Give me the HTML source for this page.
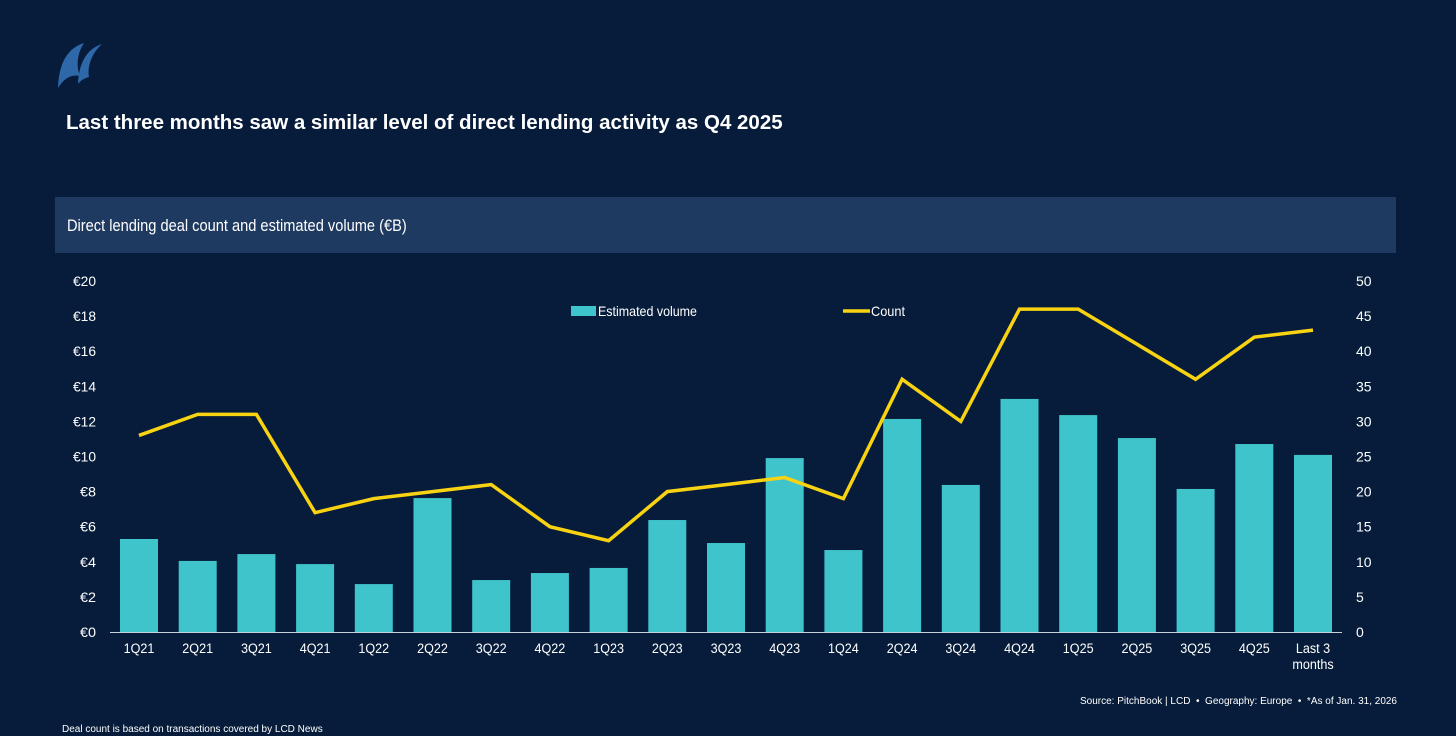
<!DOCTYPE html>
<html><head><meta charset="utf-8"><style>
body{margin:0;width:1456px;height:736px;background:#061c3a;font-family:"Liberation Sans",sans-serif;overflow:hidden;position:relative;color:#fff}
.t{position:absolute;white-space:nowrap}
</style></head><body>
<svg style="position:absolute;left:54px;top:40px" width="50" height="52" viewBox="0 0 50 52">
<path d="M30 3 C14 8 5 22 4 48 C10 38 18 34 26 36 C22 26 23 14 30 3Z" fill="#2f68a8"/>
<path d="M48 4 C33 9 25 22 24 44 C27 40 31 38 35 37 C33 26 38 13 48 4Z" fill="#2f68a8"/>
</svg>
<div class="t" style="left:66px;top:111px;font-size:20.5px;font-weight:bold">Last three months saw a similar level of direct lending activity as Q4 2025</div>
<div style="position:absolute;left:55px;top:197px;width:1341px;height:56px;background:#1f3a60"></div>
<div class="t" style="left:67px;top:216px;font-size:17px;transform:scaleX(0.86);transform-origin:left">Direct lending deal count and estimated volume (€B)</div>
<svg id="c" style="position:absolute;left:0;top:0" width="1456" height="736"></svg>
<div class="t" style="right:59px;top:696px;font-size:10px">Source: PitchBook | LCD &nbsp;•&nbsp; Geography: Europe &nbsp;•&nbsp; *As of Jan. 31, 2026</div>
<div class="t" style="left:62px;top:724px;font-size:10px">Deal count is based on transactions covered by LCD News</div>
<script>
const categories=["1Q21","2Q21","3Q21","4Q21","1Q22","2Q22","3Q22","4Q22","1Q23","2Q23","3Q23","4Q23","1Q24","2Q24","3Q24","4Q24","1Q25","2Q25","3Q25","4Q25","Last 3|months"];
const volume=[5.3,4.05,4.44,3.87,2.73,7.63,2.96,3.36,3.65,6.38,5.07,9.91,4.67,12.14,8.38,13.28,12.36,11.05,8.15,10.71,10.09];
const count=[28,31,31,17,19,20,21,15,13,20,21,22,19,36,30,46,46,41,36,42,43];
const leftTicks=[0,2,4,6,8,10,12,14,16,18,20];
const rightTicks=[0,5,10,15,20,25,30,35,40,45,50];
const svg=document.getElementById('c');const NS='http://www.w3.org/2000/svg';
const y0=632,y1=281;
const yL=v=>y0-(y0-y1)*v/20, yR=v=>y0-(y0-y1)*v/50;
const x=i=>139+i*58.7;
function mk(t,a){const e=document.createElementNS(NS,t);for(const k in a)e.setAttribute(k,a[k]);svg.appendChild(e);return e;}
leftTicks.forEach(v=>{const e=mk('text',{x:96,y:yL(v)+5,'text-anchor':'end','font-size':14,fill:'#fff','textLength':(v>=10?23:16),'lengthAdjust':'spacingAndGlyphs'});e.textContent='€'+v;

});
rightTicks.forEach(v=>{const e=mk('text',{x:1356,y:yR(v)+5,'font-size':14,fill:'#fff'});e.textContent=v;

});
volume.forEach((v,i)=>{const e=mk('rect',{x:x(i)-19,y:yL(v),width:38,height:y0-yL(v),fill:'#40c4cb'});

});
const ax=mk('line',{x1:110,x2:1342,y1:y0+0.5,y2:y0+0.5,stroke:'#c8d0dc','stroke-width':1});


categories.forEach((c,i)=>{c.split('|').forEach((p,j)=>{const e=mk('text',{x:x(i),y:653+j*16,'text-anchor':'middle','font-size':14,fill:'#fff','transform':'translate('+x(i)+',0) scale(0.9,1) translate('+(-x(i))+',0)'});e.textContent=p;

});});
const ln=mk('polyline',{points:count.map((v,i)=>x(i)+','+yR(v)).join(' '),fill:'none',stroke:'#f9d312','stroke-width':3.5,'stroke-linejoin':'miter'});


const lb=mk('rect',{x:571,y:306,width:25,height:10,fill:'#40c4cb'});


const lt=mk('text',{x:598,y:316,'font-size':14,fill:'#fff','textLength':99,'lengthAdjust':'spacingAndGlyphs'});lt.textContent='Estimated volume';


const ll=mk('line',{x1:843,x2:870,y1:311,y2:311,stroke:'#f9d312','stroke-width':3.5});


const lt2=mk('text',{x:871,y:316,'font-size':14,fill:'#fff','textLength':34,'lengthAdjust':'spacingAndGlyphs'});lt2.textContent='Count';


</script>
</body></html>
